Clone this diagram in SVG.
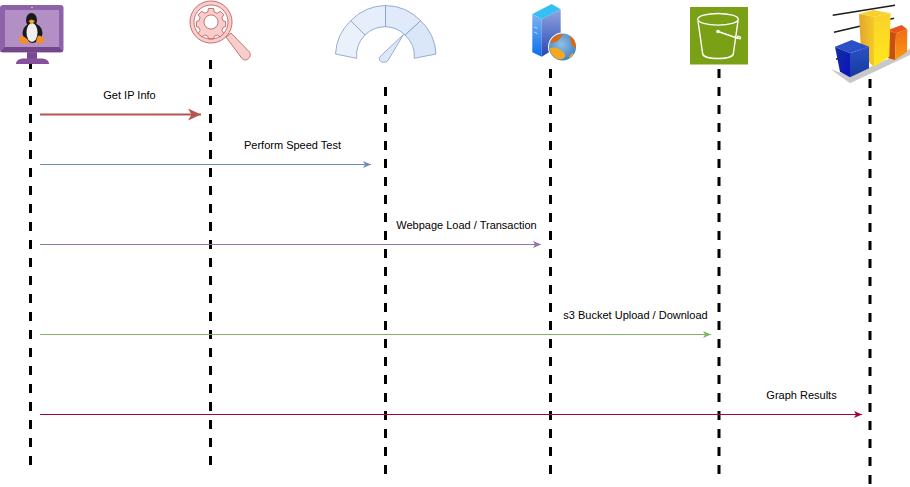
<svg xmlns="http://www.w3.org/2000/svg" width="910" height="487" viewBox="0 0 910 487">
<style>
.life{stroke:#000;stroke-width:3;stroke-dasharray:9 9;fill:none}
.lbl{font-family:"Liberation Sans",Arial,sans-serif;font-size:11px;fill:#000;text-anchor:middle}
.msg{fill:none;stroke-width:1}
.g{stroke:#7f9bc6;stroke-width:.8}
.b{fill:none;stroke:#fff;stroke-width:1.4}
</style>
<defs>
<marker id="aR" markerUnits="userSpaceOnUse" markerWidth="14" markerHeight="12" refX="13" refY="6" orient="auto"><path d="M0 0L13 6L0 12L3.500 6Z" fill="#b85450"/></marker>
<marker id="aB" markerUnits="userSpaceOnUse" markerWidth="9" markerHeight="8" refX="8" refY="4" orient="auto"><path d="M0 .5L8 4L0 7.500L2 4Z" fill="#6c8ebf"/></marker>
<marker id="aP" markerUnits="userSpaceOnUse" markerWidth="9" markerHeight="8" refX="8" refY="4" orient="auto"><path d="M0 .5L8 4L0 7.500L2 4Z" fill="#9673a6"/></marker>
<marker id="aG" markerUnits="userSpaceOnUse" markerWidth="9" markerHeight="8" refX="8" refY="4" orient="auto"><path d="M0 .5L8 4L0 7.500L2 4Z" fill="#82b366"/></marker>
<marker id="aC" markerUnits="userSpaceOnUse" markerWidth="9" markerHeight="8" refX="8" refY="4" orient="auto"><path d="M0 .5L8 4L0 7.500L2 4Z" fill="#a50040"/></marker>
<linearGradient id="srvR" x1="0" y1="0" x2="0" y2="1"><stop offset="0" stop-color="#8fa6e0"/><stop offset="1" stop-color="#2a45b0"/></linearGradient>
<linearGradient id="srvL" x1="0" y1="0" x2="0" y2="1"><stop offset="0" stop-color="#7db4ee"/><stop offset="1" stop-color="#0a6cf0"/></linearGradient>
<radialGradient id="globe" cx=".45" cy=".4" r=".65"><stop offset="0" stop-color="#8fc0e6"/><stop offset="1" stop-color="#3f7fc0"/></radialGradient>
<linearGradient id="yl" x1="0" y1="0" x2="1" y2="0"><stop offset="0" stop-color="#e0a52c"/><stop offset="1" stop-color="#f7c928"/></linearGradient>
<linearGradient id="yr" x1="0" y1="0" x2="0" y2="1"><stop offset="0" stop-color="#fbd12c"/><stop offset="1" stop-color="#ffe81a"/></linearGradient>
<linearGradient id="blr" x1="0" y1="0" x2="0" y2="1"><stop offset="0" stop-color="#2a50c8"/><stop offset="1" stop-color="#163a9c"/></linearGradient>
<linearGradient id="bll" x1="0" y1="0" x2="1" y2="1"><stop offset="0" stop-color="#14309c"/><stop offset="1" stop-color="#0a10c0"/></linearGradient>
<linearGradient id="orr" x1="0" y1="0" x2="0" y2="1"><stop offset="0" stop-color="#f06a14"/><stop offset="1" stop-color="#fb9a10"/></linearGradient>
</defs>

<g id="lifelines">
<line class="life" x1="30.5" y1="60" x2="30.5" y2="465"/>
<line class="life" x1="210.5" y1="60" x2="210.5" y2="465"/>
<line class="life" x1="385.5" y1="87" x2="385.5" y2="475"/>
<line class="life" x1="550.5" y1="69" x2="550.5" y2="475"/>
<line class="life" x1="719" y1="69" x2="719" y2="475"/>
<line class="life" x1="870" y1="79" x2="870" y2="485"/>
</g>

<g id="connectors">
<line x1="40" y1="114.5" x2="201" y2="114.5" stroke="#b85450" stroke-width="2" marker-end="url(#aR)"/>
<line class="msg" x1="40" y1="164.5" x2="371" y2="164.5" stroke="#6c8ebf" marker-end="url(#aB)"/>
<line class="msg" x1="40" y1="244.5" x2="541" y2="244.5" stroke="#9673a6" marker-end="url(#aP)"/>
<line class="msg" x1="40" y1="334.5" x2="711" y2="334.5" stroke="#82b366" marker-end="url(#aG)"/>
<line class="msg" x1="40" y1="414.5" x2="862" y2="414.5" stroke="#a50040" marker-end="url(#aC)"/>
</g>

<g id="labels">
<text class="lbl" x="129.5" y="99">Get IP Info</text>
<text class="lbl" x="292.5" y="149">Perform Speed Test</text>
<text class="lbl" x="466.5" y="229">Webpage Load / Transaction</text>
<text class="lbl" x="635.5" y="319">s3 Bucket Upload / Download</text>
<text class="lbl" x="801.5" y="399">Graph Results</text>
</g>

<g id="node-linux">
<path d="M27 52H37V59H27Z" fill="#7a4a90"/>
<path d="M16 64C16 60 20 58.500 24 58.500H41C45 58.500 49 60 49 64Z" fill="#86509c"/>
<rect x="0" y="5" width="63.500" height="47.500" rx="3" fill="#8e62a8"/>
<path d="M5 47L0 52H63L59 47Z" fill="#74478c"/>
<rect x="5" y="10" width="54" height="37" fill="#b28fc4"/>
<circle cx="32" cy="7.500" r=".8" fill="#e8d890"/>
<ellipse cx="31.500" cy="20" rx="5.500" ry="7" fill="#1a1a1a"/>
<ellipse cx="32.500" cy="33" rx="10" ry="10" fill="#1a1a1a"/>
<ellipse cx="32" cy="32.500" rx="5.500" ry="9.500" fill="#eeeeee"/>
<path d="M28.500 21L31.500 19.500L35 21L31.500 24.500Z" fill="#f5a623"/>
<path d="M20 36C23 35 27 38 30 43C24 44 20 44 19.500 42C19 40 19 38 20 36Z" fill="#f0902a"/>
<path d="M38 36C41 35 44 38 45 41C43 43 39 44 36 43C36 40 37 38 38 36Z" fill="#f0902a"/>
</g>

<g id="node-ipinfo" fill="#f8cecc" stroke="#b85450" stroke-width=".8">
<path d="M226 37L231 33L249 51.500C251 54 250.500 56.500 248.500 58.500C246.500 60.500 244 60.500 242 58.500Z"/>
<path fill-rule="evenodd" d="M211 1a21 21 0 1 0 .01 0ZM211 5a17 17 0 1 1 -.01 0Z"/>
<path fill-rule="evenodd" d="M208.500 8.500h5l.8 3.500 3 1.200 3-1.900 3.500 3.500-1.900 3 1.200 3 2.500.8v5l-2.500.8-1.200 3 1.900 3-3.500 3.500-3-1.900-3 1.200-.8 2.500h-5l-.8-2.500-3-1.200-3 1.900-3.500-3.500 1.900-3-1.200-3-2.500-.8v-5l2.500-.8 1.200-3-1.900-3 3.500-3.500 3 1.900 3-1.200ZM211 15a7 7 0 1 0 .01 0Z"/>
</g>

<g id="node-gauge">
<path class="g" fill="#ebf1fb" d="M335.500 54A51 50 0 0 1 350.700 20.700L365 35A29 29 0 0 0 356.700 58.300Z"/>
<path class="g" fill="#e5eefa" d="M350.700 20.700A50 50 0 0 1 385.500 5.500V26.700A29 29 0 0 0 365 35Z"/>
<path class="g" fill="#e0eafa" d="M385.500 5.500A50 50 0 0 1 420.700 20.700L405 35A29 29 0 0 0 385.500 26.700Z"/>
<path class="g" fill="#dae7f9" d="M420.700 20.700A51 50 0 0 1 436 54L414.300 58.300A29 29 0 0 0 405 35Z"/>
<path class="g" fill="#dce8f8" d="M403.500 34.500L379.300 57.300C378.800 59.500 380 61.500 382 62C384.500 62.700 387 62 388.300 60Z"/>
</g>

<g id="node-server">
<path d="M532.300 14L551.700 4L560.700 9.300L541.700 19.300Z" fill="#35c0f5"/>
<path d="M532.300 14L541.700 19.300V56.700L532.300 52.300Z" fill="url(#srvL)"/>
<path d="M541.700 19.300L560.700 9.300V45L541.700 56.700Z" fill="url(#srvR)"/>
<path d="M534 27l3.500 1.500M534 32l3.500 1.500" stroke="#dfeaf8" stroke-width=".7"/>
<circle cx="562.500" cy="47" r="14.500" fill="#fff"/>
<circle cx="562.500" cy="47" r="13.500" fill="url(#globe)"/>
<path d="M551 41C553 36 558 34 563 34C561 38 557 43 551 43ZM570 36C574 38 576 43 576 48C573 48 570 43 570 36Z" fill="#de6a10"/>
<path d="M550 48C555 46 562 50 565 54C566 58 562 60 558 59C553 57 550 53 550 48ZM573 53C574 54 572 57 569 58C569 56 571 54 573 53Z" fill="#f5a81c"/>
</g>

<g id="node-s3">
<rect x="690" y="7" width="58" height="57.500" fill="#7aa116"/>
<ellipse cx="718" cy="19.300" rx="20.300" ry="5.800" class="b"/>
<path class="b" d="M698 21L702.700 54C704 60 732 60 733.300 54L738 21"/>
<path class="b" d="M718 31.500L738.500 38.500"/>
<ellipse cx="739" cy="37.500" rx="1.800" ry="1" transform="rotate(25 739 37.500)" class="b" stroke-width="1"/>
<circle cx="718" cy="31.500" r="1.800" fill="#fff"/>
</g>

<g id="node-chart">
<path d="M830.700 69.300L850 83.300L910 55V49L850 76Z" fill="#c8c8c8"/>
<path d="M832.700 15.300L895 5.300M834 32.300L894 18.300M836 59L840 58.300" stroke="#1c1c1c" stroke-width="1.500" fill="none"/>
<path d="M888 30L901.700 25L907.300 29.300L896 33.300Z" fill="#e8551c"/>
<path d="M888 30L896 33.300L895 60L888 58Z" fill="#c8500c"/>
<path d="M896 33.300L907.300 29.300L907 52L895 60Z" fill="url(#orr)"/>
<path d="M859 14L873.300 10L890.700 13.300L874 16.700Z" fill="#f8d030"/>
<path d="M859 14L874 16.700V66.700L870 63.300L861 50Z" fill="url(#yl)"/>
<path d="M874 16.700L890.700 13.300L889.300 56.700L874 66.700Z" fill="url(#yr)"/>
<path d="M835 46.700L851.700 40L869 46.700L850 53.300Z" fill="#2c50c8"/>
<path d="M835 46.700L850 53.300V77.300L840 71.700Z" fill="url(#bll)"/>
<path d="M850 53.300L869 46.700V68.300L850 77.300Z" fill="url(#blr)"/>
</g>
</svg>
